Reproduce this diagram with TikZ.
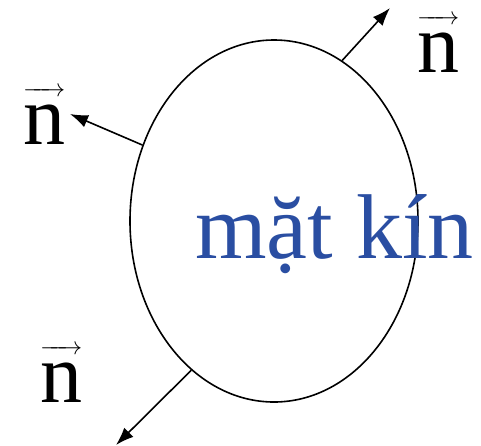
\documentclass[tikz,border=0pt]{standalone}
\usepackage{amsmath}
\usepackage{fontspec}
\setmainfont{Liberation Serif}
\usepackage{tikz}
\usetikzlibrary{shapes.geometric,arrows.meta}
\usepackage{xcolor}
\definecolor{surfblue}{RGB}{42, 78, 162}

\newcommand{\normvec}{$\overrightarrow{\mbox{n\rule{0pt}{0.56em}}}$}

\tikzset{
  vecn/.style={inner sep=0pt, anchor=base west,
               font=\fontsize{84}{90}\selectfont},
  normal/.style={line width=1.6pt, -{Latex[length=18pt,width=13pt]}}
}

\begin{document}
\begin{tikzpicture}[x=1pt, y=-1pt]
    \useasboundingbox (0,0) rectangle (481,445);
    % closed surface
    \node[draw, line width=1.6pt, ellipse, inner sep=0pt,
          minimum width=288pt, minimum height=362pt] (mat) at (274,221) {};
    \node[inner sep=0pt, anchor=base west, text=surfblue,
          font=\fontsize{92}{100}\selectfont] (label) at (195,258) {mặt kín};
    % outward normals
    \coordinate (tipA) at (390,8);
    \coordinate (tipB) at (70,114);
    \coordinate (tipC) at (116,445);
    \draw[normal] (mat.67.5) -- (tipA);
    \draw[normal] (mat.150) -- (tipB);
    \draw[normal] (mat.241.8) -- (tipC);
    \node[vecn] (nA) at (417,72) {\normvec};
    \node[vecn] (nB) at (23,144) {\normvec};
    \node[vecn] (nC) at (40,402) {\normvec};
  \end{tikzpicture}
\end{document}
